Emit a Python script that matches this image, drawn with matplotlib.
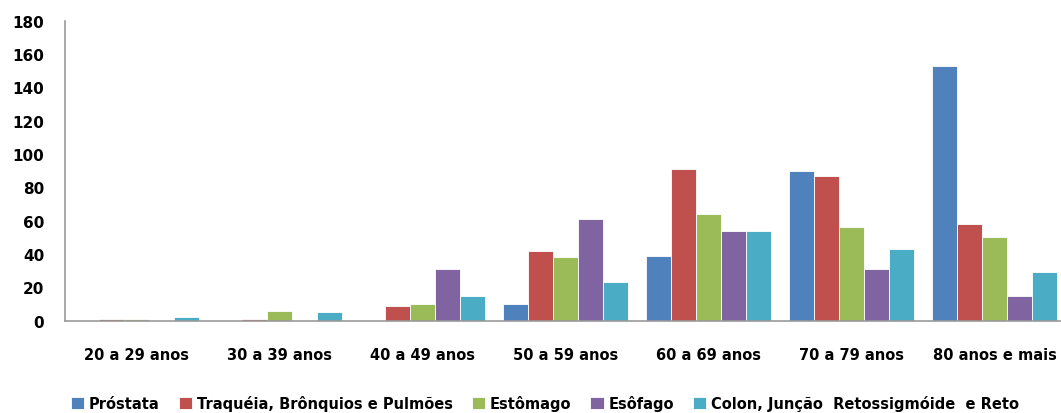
import matplotlib.pyplot as plt
import numpy as np

plt.rcParams['font.family'] = ['DejaVu Sans']

faixas = ["20 a 29 anos", "30 a 39 anos", "40 a 49 anos", "50 a 59 anos",
          "60 a 69 anos", "70 a 79 anos", "80 anos e mais"]

prostata = [0, 0, 0, 10, 39, 90, 153]
traqueia = [1, 1, 9, 42, 91, 87, 58]
estomago = [1, 6, 10, 38, 64, 56, 50]
esofago = [0, 0, 31, 61, 54, 31, 15]
colon = [2, 5, 15, 23, 54, 43, 29]

series = [
    ("Próstata", prostata, "#4F81BD"),
    ("Traquéia, Brônquios e Pulmões", traqueia, "#C0504D"),
    ("Estômago", estomago, "#9BBB59"),
    ("Esôfago", esofago, "#8064A2"),
    ("Colon, Junção  Retossigmóide  e Reto", colon, "#4BACC6"),
]

fig = plt.figure(figsize=(10.61, 4.14), dpi=100)
ax = fig.add_axes([65 / 1061, 92.3 / 414, 1001 / 1061, 300 / 414])

x = np.arange(len(faixas))
width = 0.176
for i, (nome, vals, cor) in enumerate(series):
    ax.bar(x + (i - 2) * width, vals, width, color=cor, label=nome,
           edgecolor="white", linewidth=0.6)

ax.set_xlim(-0.5, len(faixas) - 0.5)
ax.set_ylim(0, 180)
ax.set_yticks(range(0, 181, 20))
ax.set_xticks(x)
ax.set_xticklabels(faixas, fontweight="bold", fontsize=10.5)
for lab in ax.get_yticklabels():
    lab.set_fontweight("bold")
    lab.set_fontsize(11)
ax.tick_params(axis="y", length=0, pad=15)
ax.tick_params(axis="x", length=0, pad=19)

for side in ["top", "right"]:
    ax.spines[side].set_visible(False)
for side in ["left", "bottom"]:
    ax.spines[side].set_color("#999999")
    ax.spines[side].set_linewidth(1.2)

fig.legend(loc="center", bbox_to_anchor=(545 / 1061, 10 / 414), ncol=5,
           frameon=False, handlelength=0.9, handleheight=0.9,
           handletextpad=0.35, columnspacing=1.3,
           prop={"weight": "bold", "size": 10.5})

fig.savefig("out.png", dpi=100)
